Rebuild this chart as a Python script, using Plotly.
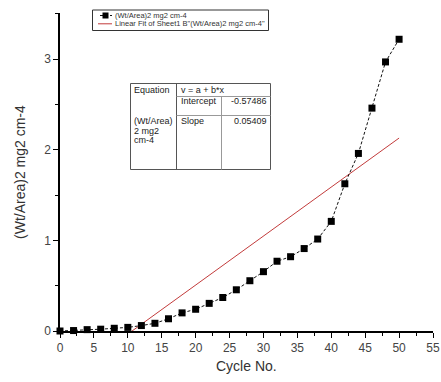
import plotly.graph_objects as go

# ---- data ----
cycles = [0, 2, 4, 6, 8, 10, 12, 14, 16, 18, 20, 22, 24, 26, 28, 30, 32, 34, 36, 38, 40, 42, 44, 46, 48, 50]
wt_area = [0.0, 0.005, 0.015, 0.02, 0.03, 0.04, 0.06, 0.085, 0.135, 0.2, 0.24, 0.305, 0.37, 0.455,
           0.555, 0.655, 0.77, 0.82, 0.91, 1.015, 1.21, 1.625, 1.96, 2.46, 2.97, 3.22]
fit_intercept = -0.57486
fit_slope = 0.05409
fit_x = [0, 50]
fit_y = [fit_intercept + fit_slope * x for x in fit_x]

series_name = "(Wt/Area)2 mg2 cm-4"
fit_name = 'Linear Fit of Sheet1 B"(Wt/Area)2 mg2 cm-4"'
x_title = "Cycle No."
y_title = "(Wt/Area)2 mg2 cm-4"

W, H = 441, 382
ML, MR, MT, MB = 60, 8, 13, 51
PW, PH = W - ML - MR, H - MT - MB
FONT = "Arial, Liberation Sans, sans-serif"


def px(x):
    return (x - ML) / PW


def py(y):
    return (H - MB - y) / PH


fig = go.Figure()
fig.add_trace(go.Scatter(x=fit_x, y=fit_y, mode="lines", name=fit_name,
                         line=dict(color="#c23b3b", width=1), showlegend=False))
fig.add_trace(go.Scatter(x=cycles, y=wt_area, mode="lines+markers", name=series_name,
                         line=dict(color="#111", width=1, dash="3px,2px"),
                         marker=dict(symbol="square", size=7, color="black"),
                         cliponaxis=False, showlegend=False))

shapes = []
annotations = []

# manual legend
shapes.append(dict(type="rect", xref="paper", yref="paper", x0=px(92.5), x1=px(268.5),
                   y0=py(10), y1=py(30.5), line=dict(color="#333", width=1)))
shapes.append(dict(type="line", xref="paper", yref="paper", x0=px(100), x1=px(112),
                   y0=py(15.5), y1=py(15.5), line=dict(color="#111", width=1, dash="3px,2px")))
shapes.append(dict(type="rect", xref="paper", yref="paper", x0=px(102.5), x1=px(108.5),
                   y0=py(12.5), y1=py(18.5), fillcolor="black", line=dict(width=0)))
shapes.append(dict(type="line", xref="paper", yref="paper", x0=px(98), x1=px(112),
                   y0=py(23.8), y1=py(23.8), line=dict(color="#c23b3b", width=1)))
annotations.append(dict(xref="paper", yref="paper", x=px(113), y=py(15.5), text=series_name,
                        showarrow=False, xanchor="left", yanchor="middle",
                        font=dict(family=FONT, size=7.5, color="#333")))
annotations.append(dict(xref="paper", yref="paper", x=px(113), y=py(23.8), text=fit_name,
                        showarrow=False, xanchor="left", yanchor="middle",
                        font=dict(family=FONT, size=7.5, color="#333")))

# results table
tcol = "#555"
shapes.append(dict(type="rect", xref="paper", yref="paper", x0=px(130.5), x1=px(270.5),
                   y0=py(83.5), y1=py(169.5), line=dict(color=tcol, width=1)))
shapes.append(dict(type="line", xref="paper", yref="paper", x0=px(176.5), x1=px(176.5),
                   y0=py(83.5), y1=py(169.5), line=dict(color=tcol, width=1)))
shapes.append(dict(type="line", xref="paper", yref="paper", x0=px(221.5), x1=px(221.5),
                   y0=py(96.5), y1=py(169.5), line=dict(color="#999", width=1)))
shapes.append(dict(type="line", xref="paper", yref="paper", x0=px(176.5), x1=px(270.5),
                   y0=py(96.5), y1=py(96.5), line=dict(color="#999", width=1)))
shapes.append(dict(type="line", xref="paper", yref="paper", x0=px(176.5), x1=px(270.5),
                   y0=py(115.5), y1=py(115.5), line=dict(color="#999", width=1)))

cells = [
    ("Equation", 131.5, 90, "left"),
    ("v = a + b*x", 178.5, 90, "left"),
    ("Intercept", 178.5, 101, "left"),
    (f"{fit_intercept:.5f}", 268.5, 101, "right"),
    ("Slope", 178.5, 121, "left"),
    (f"{fit_slope:.5f}", 268.5, 121, "right"),
    ("(Wt/Area)", 131.5, 121, "left"),
    ("2 mg2", 131.5, 130.5, "left"),
    ("cm-4", 131.5, 140, "left"),
]
for txt, x, y, anc in cells:
    annotations.append(dict(xref="paper", yref="paper", x=px(x), y=py(y), text=txt,
                            showarrow=False, xanchor=anc, yanchor="middle",
                            font=dict(family=FONT, size=9, color="#222")))

# axis titles
annotations.append(dict(xref="paper", yref="paper", x=px(246), y=py(366), text=x_title,
                        showarrow=False, xanchor="center", yanchor="middle",
                        font=dict(family=FONT, size=14, color="#333")))
annotations.append(dict(xref="paper", yref="paper", x=px(20), y=py(172), text=y_title,
                        textangle=-90, showarrow=False, xanchor="center", yanchor="middle",
                        font=dict(family=FONT, size=14, color="#333")))

fig.update_layout(
    width=W, height=H,
    margin=dict(l=ML, r=MR, t=MT, b=MB, autoexpand=False),
    paper_bgcolor="white", plot_bgcolor="white",
    font=dict(family=FONT, color="#333"),
    shapes=shapes, annotations=annotations,
    showlegend=False,
)
fig.update_xaxes(range=[0, 55], tick0=0, dtick=5, ticks="outside", ticklen=5, tickwidth=1.3,
                 tickcolor="black", showline=True, linecolor="black", linewidth=1.5,
                 showgrid=False, zeroline=False, tickfont=dict(size=12, color="#444"),
                 automargin=False,
                 minor=dict(dtick=2.5, ticks="outside", ticklen=3, tickcolor="black", tickwidth=1.3))
fig.update_yaxes(range=[0, 3.51], tick0=0, dtick=1, ticks="outside", ticklen=5, tickwidth=1.3,
                 tickcolor="black", showline=True, linecolor="black", linewidth=1.5,
                 showgrid=False, zeroline=False, tickfont=dict(size=12, color="#444"),
                 automargin=False,
                 minor=dict(dtick=0.5, ticks="outside", ticklen=3, tickcolor="black", tickwidth=1.3))

fig.write_html("out.html", config={"displayModeBar": False},
               post_script="document.body.style.margin='0';document.body.style.overflow='hidden';")
